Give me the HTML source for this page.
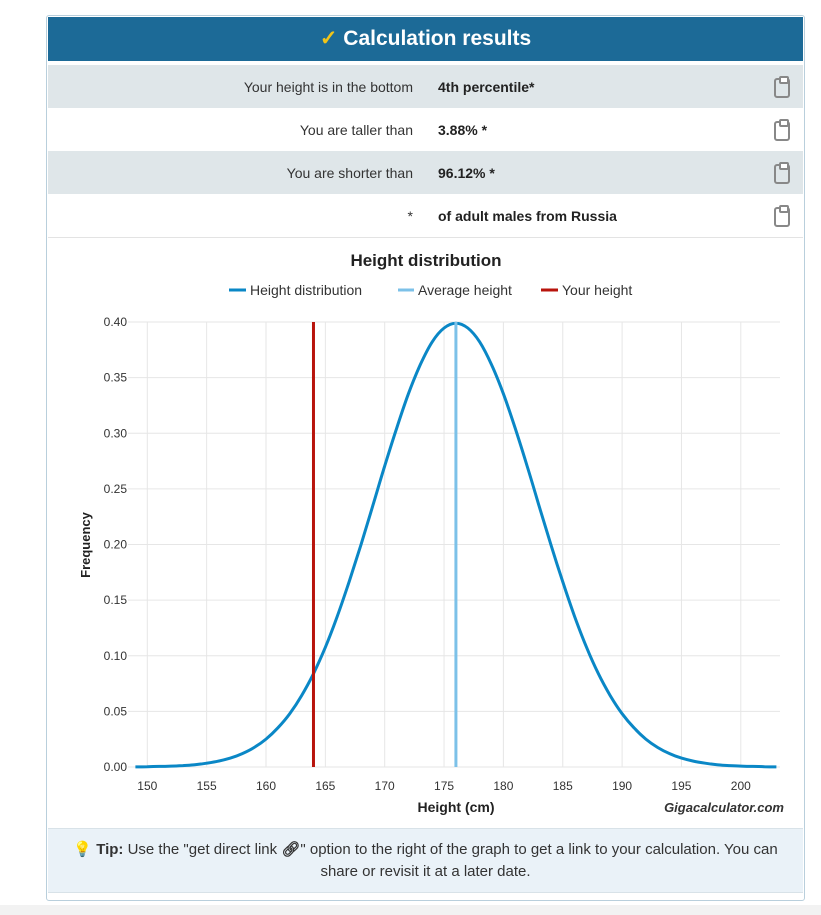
<!DOCTYPE html>
<html><head><meta charset="utf-8">
<style>
body{margin:0;width:821px;height:915px;background:#fff;font-family:"Liberation Sans",sans-serif;position:relative;overflow:hidden}
.abs{position:absolute}
.row{position:absolute;left:48px;width:755px;height:43px;font-size:14px;color:#333}
.row .l{position:absolute;right:390px;top:14px;text-align:right}
.row .v{position:absolute;left:390px;top:14px;font-weight:bold;color:#222}
.clip{position:absolute;left:726px;top:13px;width:16px;height:20px;border:2px solid #888;border-radius:3px;box-sizing:border-box}
.clip:after{content:"";position:absolute;left:3px;top:-4px;width:6px;height:4px;border:2px solid #888;border-radius:2px;background:#fff}
</style></head><body>
<div class="abs" style="left:0;top:905px;width:821px;height:10px;background:#f2f2f2"></div>
<div class="abs" style="left:46px;top:15px;width:757px;height:884px;border:1px solid #b9cfdc;border-radius:3px"></div>
<div class="abs" style="left:48px;top:17px;width:755px;height:44px;background:#1c6a97;color:#fff;font-size:21px;font-weight:bold;text-align:center;line-height:44px"><span style="color:#f0c419">✓</span> Calculation results</div>
<div class="row" style="top:65px;background:#dfe6e9"><span class="l">Your height is in the bottom</span><span class="v">4th percentile*</span><span class="clip"></span></div>
<div class="row" style="top:108px;background:#fff"><span class="l">You are taller than</span><span class="v">3.88% *</span><span class="clip"></span></div>
<div class="row" style="top:151px;background:#dfe6e9"><span class="l">You are shorter than</span><span class="v">96.12% *</span><span class="clip"></span></div>
<div class="row" style="top:194px;background:#fff;border-bottom:1px solid #e3e3e3"><span class="l">*</span><span class="v">of adult males from Russia</span><span class="clip"></span></div>

<svg class="abs" style="left:0;top:0" width="821" height="915">
<text x="426" y="266" text-anchor="middle" font-size="17" font-weight="bold" fill="#222">Height distribution</text>
<g font-size="14" fill="#333">
<line x1="229" y1="290" x2="246" y2="290" stroke="#0a87c6" stroke-width="3"/><text x="250" y="295">Height distribution</text>
<line x1="398" y1="290" x2="414" y2="290" stroke="#7cc1e8" stroke-width="3"/><text x="418" y="295">Average height</text>
<line x1="541" y1="290" x2="558" y2="290" stroke="#b8140c" stroke-width="3"/><text x="562" y="295">Your height</text>
</g>
<g id="grid"></g><g id="marks"></g>
<text transform="translate(90,545) rotate(-90)" text-anchor="middle" font-size="13" font-weight="bold" fill="#222">Frequency</text>
<text x="456" y="812" text-anchor="middle" font-size="14" font-weight="bold" fill="#222">Height (cm)</text>
<text x="784" y="812" text-anchor="end" font-size="13" font-weight="bold" font-style="italic" fill="#333">Gigacalculator.com</text>
</svg>

<div class="abs" style="left:48px;top:828px;width:755px;height:65px;background:#eaf2f8;border-top:1px solid #d8e2e8;border-bottom:1px solid #d8e2e8;font-size:15px;color:#333;text-align:center;line-height:22px;padding-top:10px;box-sizing:border-box"><span style="color:#f0c419">💡</span> <b>Tip:</b> Use the "get direct link <b>&#x1F517;&#xFE0E;</b>" option to the right of the graph to get a link to your calculation. You can<br>share or revisit it at a later date.</div>

<script>
const heights=[149,150,151,152,153,154,155,156,157,158,159,160,161,162,163,164,165,166,167,168,169,170,171,172,173,174,175,176,177,178,179,180,181,182,183,184,185,186,187,188,189,190,191,192,193,194,195,196,197,198,199,200,201,202,203];
const freq=[0.0001,0.0003,0.0005,0.0008,0.0013,0.0021,0.0034,0.0053,0.0080,0.0120,0.0175,0.0251,0.0352,0.0479,0.0642,0.0839,0.1077,0.1353,0.1664,0.1998,0.2349,0.2706,0.3043,0.3355,0.3617,0.3821,0.3946,0.3989,0.3946,0.3821,0.3617,0.3355,0.3043,0.2706,0.2349,0.1998,0.1664,0.1353,0.1077,0.0839,0.0642,0.0479,0.0352,0.0251,0.0175,0.0120,0.0080,0.0053,0.0034,0.0021,0.0013,0.0008,0.0005,0.0003,0.0001];
const xTicks=[150,155,160,165,170,175,180,185,190,195,200];
const yTicks=["0.00","0.05","0.10","0.15","0.20","0.25","0.30","0.35","0.40"];
const avgHeight=176;
const yourHeight=164;
const NS="http://www.w3.org/2000/svg";
const L=132,R=780,T=322,B=767;
const xs=v=>147.3+(v-150)*11.87;
const ys=v=>B-(v/0.4)*(B-T);
const grid=document.getElementById('grid'),marks=document.getElementById('marks');
function mk(tag,attrs,parent){const e=document.createElementNS(NS,tag);for(const k in attrs)e.setAttribute(k,attrs[k]);parent.appendChild(e);return e;}
yTicks.forEach(t=>{const y=ys(parseFloat(t));
const g=mk('line',{x1:128,x2:R,y1:y,y2:y,stroke:'#e6e6e6'},grid);


const tx=mk('text',{x:127,y:y+4,'text-anchor':'end','font-size':12,fill:'#333'},grid);tx.textContent=t;

});
xTicks.forEach(t=>{const x=xs(t);
const g=mk('line',{x1:x,x2:x,y1:T,y2:B,stroke:'#e6e6e6'},grid);


const tx=mk('text',{x:x,y:790,'text-anchor':'middle','font-size':12,fill:'#333'},grid);tx.textContent=t;

});
const pts=heights.map((h,i)=>[Math.max(L,xs(h)),ys(freq[i])]);
let d='M'+pts[0][0].toFixed(1)+','+pts[0][1].toFixed(1);
for(let i=0;i<pts.length-1;i++){
const p0=pts[Math.max(0,i-1)],p1=pts[i],p2=pts[i+1],p3=pts[Math.min(pts.length-1,i+2)];
const c1=[p1[0]+(p2[0]-p0[0])/6,p1[1]+(p2[1]-p0[1])/6],c2=[p2[0]-(p3[0]-p1[0])/6,p2[1]-(p3[1]-p1[1])/6];
d+=' C'+c1.map(v=>v.toFixed(1)).join(',')+' '+c2.map(v=>v.toFixed(1)).join(',')+' '+p2.map(v=>v.toFixed(1)).join(',');}
const p=mk('path',{d:d,fill:'none',stroke:'#0a87c6','stroke-width':3},marks);


const a=mk('line',{x1:xs(avgHeight),x2:xs(avgHeight),y1:T,y2:B,stroke:'#7cc1e8','stroke-width':3},marks);


const yl=mk('line',{x1:xs(yourHeight),x2:xs(yourHeight),y1:T,y2:B,stroke:'#b8140c','stroke-width':3},marks);


</script>
</body></html>
